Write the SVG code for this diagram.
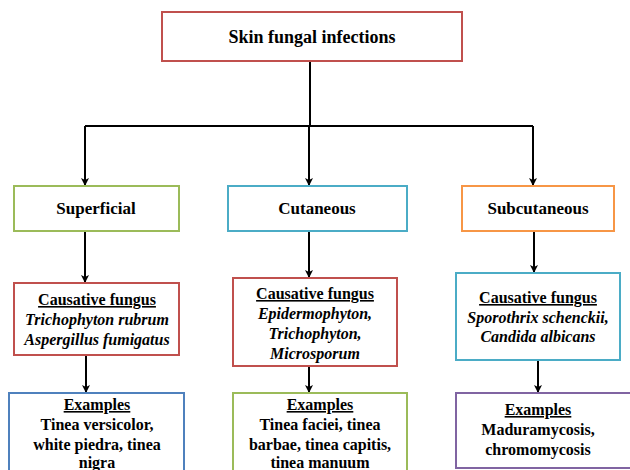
<svg xmlns="http://www.w3.org/2000/svg" width="630" height="470" viewBox="0 0 630 470">
<style>
.box{fill:#fff;stroke-width:2}
text{font-family:'Liberation Serif','Times New Roman','DejaVu Serif',serif;font-weight:bold;font-size:16px;fill:#000;text-anchor:middle}
.h1{font-size:18px}
.h2{font-size:17px}
.i{font-style:italic}
.u{text-decoration:underline}
.c{stroke:#000;stroke-width:2;fill:none}
</style>
<defs>
<marker id="ah" markerWidth="10" markerHeight="10" refX="8" refY="5" orient="auto" markerUnits="userSpaceOnUse">
<path d="M1,1 L9,5 L1,9 L3,5 Z" fill="#000"/>
</marker>
</defs>
<g id="connectors">
<path class="c" d="M310,61 V126"/>
<path class="c" d="M85,126 H533"/>
<path class="c" d="M85,126 V185" marker-end="url(#ah)"/>
<path class="c" d="M309,126 V185" marker-end="url(#ah)"/>
<path class="c" d="M533,126 V185" marker-end="url(#ah)"/>
<path class="c" d="M85,231 V282" marker-end="url(#ah)"/>
<path class="c" d="M309,231 V277" marker-end="url(#ah)"/>
<path class="c" d="M534,231 V272" marker-end="url(#ah)"/>
<path class="c" d="M86,355 V392" marker-end="url(#ah)"/>
<path class="c" d="M309,366 V392" marker-end="url(#ah)"/>
<path class="c" d="M538,360 V392" marker-end="url(#ah)"/>
</g>
<g id="root">
<rect class="box" x="162" y="12" width="300" height="49" stroke="#c0504d"/>
<text class="h1" x="312" y="43">Skin fungal infections</text>
</g>
<g id="superficial">
<rect class="box" x="14" y="186" width="165" height="45" stroke="#9bbb59"/>
<text class="h2" x="96" y="214">Superficial</text>
</g>
<g id="cutaneous">
<rect class="box" x="228" y="186" width="179" height="45" stroke="#4bacc6"/>
<text class="h2" x="317" y="214">Cutaneous</text>
</g>
<g id="subcutaneous">
<rect class="box" x="462" y="186" width="152" height="45" stroke="#f79646"/>
<text class="h2" x="538" y="214">Subcutaneous</text>
</g>
<g id="fungus1">
<rect class="box" x="14" y="283" width="165" height="72" stroke="#c0504d"/>
<text x="97" y="305"><tspan class="u">Causative fungus</tspan></text>
<text class="i" x="97" y="325">Trichophyton rubrum</text>
<text class="i" x="97" y="345">Aspergillus fumigatus</text>
</g>
<g id="fungus2">
<rect class="box" x="233" y="278" width="164" height="88" stroke="#c0504d"/>
<text x="315" y="299"><tspan class="u">Causative fungus</tspan></text>
<text class="i" x="315" y="319">Epidermophyton,</text>
<text class="i" x="315" y="339">Trichophyton,</text>
<text class="i" x="315" y="359">Microsporum</text>
</g>
<g id="fungus3">
<rect class="box" x="456" y="273" width="164" height="87" stroke="#4bacc6"/>
<text x="538" y="303"><tspan class="u">Causative fungus</tspan></text>
<text class="i" x="538" y="323">Sporothrix schenckii,</text>
<text class="i" x="538" y="342">Candida albicans</text>
</g>
<g id="examples1">
<rect class="box" x="9" y="393" width="175" height="85" stroke="#4f81bd"/>
<text x="97" y="410"><tspan class="u">Examples</tspan></text>
<text x="97" y="430">Tinea versicolor,</text>
<text x="97" y="450">white piedra, tinea</text>
<text x="97" y="468">nigra</text>
</g>
<g id="examples2">
<rect class="box" x="233" y="393" width="174" height="85" stroke="#9bbb59"/>
<text x="320" y="410"><tspan class="u">Examples</tspan></text>
<text x="320" y="430">Tinea faciei, tinea</text>
<text x="320" y="450">barbae, tinea capitis,</text>
<text x="320" y="468">tinea manuum</text>
</g>
<g id="examples3">
<rect class="box" x="456" y="393" width="180" height="75" stroke="#8064a2"/>
<text x="538" y="415"><tspan class="u">Examples</tspan></text>
<text x="538" y="435">Maduramycosis,</text>
<text x="538" y="455">chromomycosis</text>
</g>
</svg>
